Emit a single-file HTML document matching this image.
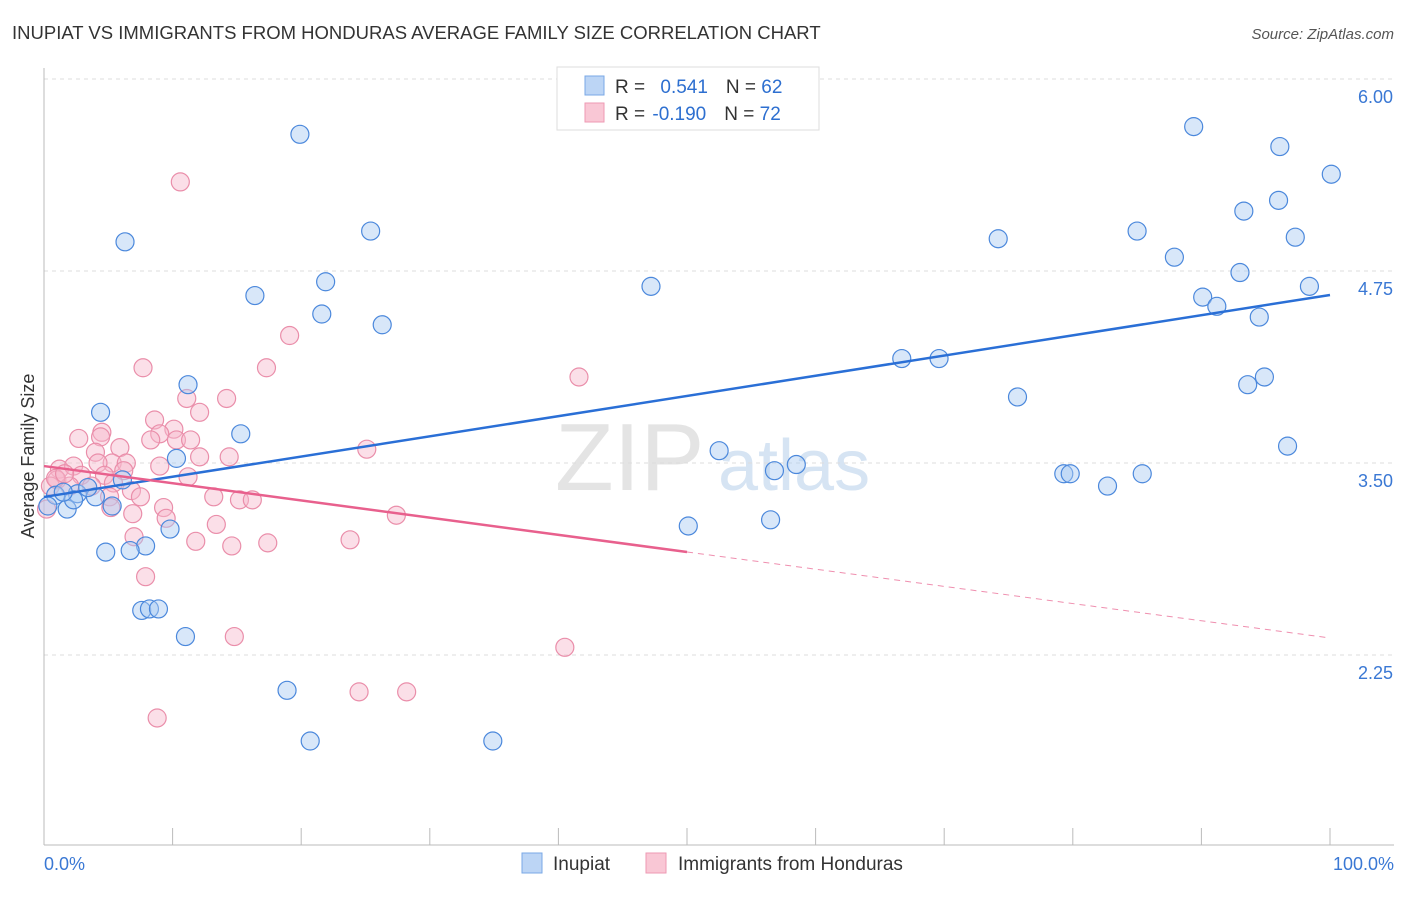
<!DOCTYPE html>
<html><head><meta charset="utf-8"><style>
body{margin:0;background:#fff;font-family:"Liberation Sans",sans-serif}
svg text{font-family:"Liberation Sans",sans-serif}
</style></head><body>
<svg id="c" width="1406" height="892">
<text x="12" y="39" font-size="18.5" fill="#333">INUPIAT VS IMMIGRANTS FROM HONDURAS AVERAGE FAMILY SIZE CORRELATION CHART</text>
<text x="1394" y="39" font-size="15" fill="#555" text-anchor="end" font-style="italic">Source: ZipAtlas.com</text>
<text x="555" y="490" font-size="96" fill="#e4e4e4" font-family="Liberation Serif">ZIP</text>
<text x="718" y="490" font-size="72" fill="#d6e4f3">atlas</text>
<g id="grid"></g><g id="axes"></g><g id="pts"></g><g id="lines"></g>
<text transform="translate(34,456) rotate(-90)" font-size="18" fill="#333" text-anchor="middle">Average Family Size</text>
<text x="44" y="870" font-size="18" fill="#3a78d4">0.0%</text>
<text x="1394" y="870" font-size="18" fill="#3a78d4" text-anchor="end">100.0%</text>
<g>
<rect x="557" y="67" width="262" height="63" fill="#fff" stroke="#ddd"/>
<rect x="585" y="76" width="19" height="19" fill="#bcd5f5" stroke="#7aa8e6"/>
<rect x="585" y="103" width="19" height="19" fill="#f9c7d5" stroke="#ee9ab3"/>
<text x="615" y="93" font-size="19" fill="#333">R = <tspan fill="#2d6fd0" dx="10">0.541</tspan><tspan dx="18">N = </tspan><tspan fill="#2d6fd0">62</tspan></text>
<text x="615" y="120" font-size="19" fill="#333">R = <tspan fill="#2d6fd0" dx="2">-0.190</tspan><tspan dx="18">N = </tspan><tspan fill="#2d6fd0">72</tspan></text>
</g>
<g>
<rect x="522" y="853" width="20" height="20" fill="#bcd5f5" stroke="#7aa8e6"/>
<text x="553" y="870" font-size="19" fill="#333">Inupiat</text>
<rect x="646" y="853" width="20" height="20" fill="#f9c7d5" stroke="#ee9ab3"/>
<text x="678" y="870" font-size="19" fill="#333">Immigrants from Honduras</text>
</g>
</svg>
<script>
const yTicks=[6.00,4.75,3.50,2.25];
const yTickLabels=["6.00","4.75","3.50","2.25"];
const xTicks=[0,10,20,30,40,50,60,70,80,90,100];
const inupiatX=[19.9,6.3,25.4,21.9,16.4,21.6,26.3,47.2,74.2,85.0,89.4,96.1,100.1,93.3,96.0,97.3,87.9,93.0,90.1,91.2,98.4,94.5,66.7,69.6,75.7,93.6,94.9,96.7,11.2,4.4,15.3,10.3,52.5,56.8,58.5,79.3,79.8,82.7,85.4,50.1,56.5,6.1,2.6,4.0,5.3,0.9,1.8,2.3,9.8,7.9,6.7,4.8,7.6,8.2,8.9,11.0,18.9,20.7,34.9,3.4,0.3,1.5];
const inupiatY=[5.64,4.94,5.01,4.68,4.59,4.47,4.40,4.65,4.96,5.01,5.69,5.56,5.38,5.14,5.21,4.97,4.84,4.74,4.58,4.52,4.65,4.45,4.18,4.18,3.93,4.01,4.06,3.61,4.01,3.83,3.69,3.53,3.58,3.45,3.49,3.43,3.43,3.35,3.43,3.09,3.13,3.39,3.30,3.28,3.22,3.29,3.20,3.26,3.07,2.96,2.93,2.92,2.54,2.55,2.55,2.37,2.02,1.69,1.69,3.34,3.22,3.31];
const hondX=[10.6,19.1,7.7,17.3,41.6,14.2,11.1,12.1,8.6,10.1,2.7,4.5,4.4,9.0,10.3,11.4,8.3,5.9,4.0,25.1,14.4,12.1,5.3,4.2,9.0,6.4,1.2,2.3,6.2,2.9,4.7,11.2,5.4,1.0,0.5,2.0,3.7,6.8,7.5,5.1,13.2,15.2,16.2,9.3,5.2,6.9,27.4,9.5,13.4,11.8,14.6,17.4,23.8,7.0,7.9,14.8,40.5,24.5,28.2,8.8,0.2,0.9,1.6];
const hondY=[5.33,4.33,4.12,4.12,4.06,3.92,3.92,3.83,3.78,3.72,3.66,3.70,3.67,3.69,3.65,3.65,3.65,3.60,3.57,3.59,3.54,3.54,3.50,3.50,3.48,3.50,3.46,3.48,3.45,3.42,3.42,3.41,3.37,3.39,3.35,3.35,3.35,3.32,3.28,3.28,3.28,3.26,3.26,3.21,3.21,3.17,3.16,3.14,3.10,2.99,2.96,2.98,3.00,3.02,2.76,2.37,2.30,2.01,2.01,1.84,3.20,3.40,3.43];
const blueFit=[3.279,0.01315];
const pinkFit=[3.480,-0.01119];
const sx=v=>44+v*12.86, sy=v=>79+(6-v)*153.6;
const NS="http://www.w3.org/2000/svg";
function mk(t,a,p){const e=document.createElementNS(NS,t);for(const k in a)e.setAttribute(k,a[k]);p.appendChild(e);return e;}
const grid=document.getElementById('grid'),axes=document.getElementById('axes'),pts=document.getElementById('pts'),lines=document.getElementById('lines');
yTicks.forEach((v,i)=>{
 const l=mk('line',{x1:44,x2:1394,y1:sy(v),y2:sy(v),stroke:'#ddd','stroke-dasharray':'4,4'},grid);
 
 
 const t=mk('text',{x:1393,y:sy(v)+24,'font-size':18,fill:'#3a78d4','text-anchor':'end'},grid);
 t.textContent=yTickLabels[i];
 
 
});
const ax=mk('line',{x1:44,x2:44,y1:68,y2:845,stroke:'#bbb'},axes);


const bx=mk('line',{x1:44,x2:1394,y1:845,y2:845,stroke:'#bbb'},axes);


xTicks.forEach(v=>{
 const l=mk('line',{x1:sx(v),x2:sx(v),y1:828,y2:845,stroke:'#bbb'},axes);
 
 
});
function dots(X,Y,fill,stroke,name){X.forEach((x,i)=>{
 const c=mk('circle',{cx:sx(x),cy:sy(Y[i]),r:9,fill:fill,'fill-opacity':0.45,stroke:stroke,'stroke-width':1.2},pts);
 
 
});}
dots(hondX,hondY,'#f7b8cb','#ea8eaa','honduras-point');
dots(inupiatX,inupiatY,'#a9c9f2','#4b88dc','inupiat-point');
const bl=mk('line',{x1:sx(0),y1:sy(blueFit[0]),x2:sx(100),y2:sy(blueFit[0]+100*blueFit[1]),stroke:'#2a6fd6','stroke-width':2.5},lines);


const pl=mk('line',{x1:sx(0),y1:sy(pinkFit[0]),x2:sx(50),y2:sy(pinkFit[0]+50*pinkFit[1]),stroke:'#e8608d','stroke-width':2.5},lines);


const pd=mk('line',{x1:sx(50),y1:sy(pinkFit[0]+50*pinkFit[1]),x2:sx(100),y2:sy(pinkFit[0]+100*pinkFit[1]),stroke:'#e8608d','stroke-width':1,'stroke-dasharray':'6,5','stroke-opacity':0.7},lines);


</script>
</body></html>
